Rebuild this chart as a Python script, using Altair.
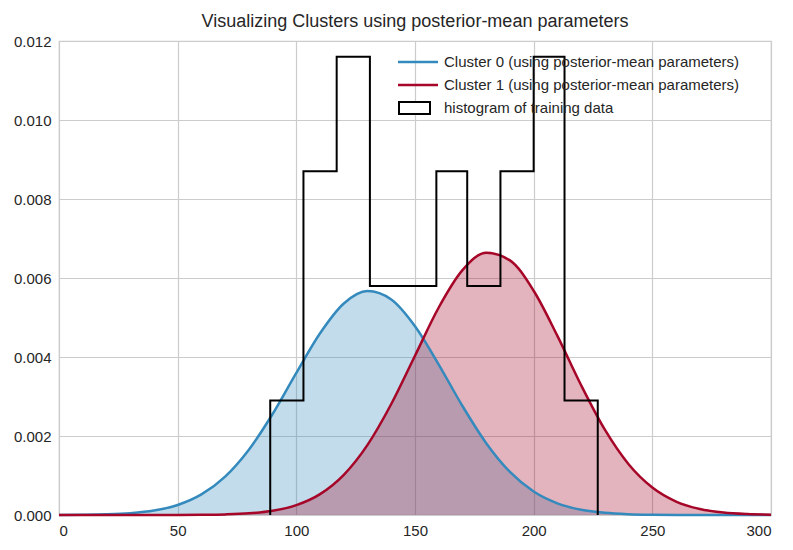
import altair as alt
import pandas as pd

xs = list(range(0, 310, 10))
c0 = [0.0000017,0.0000056,0.0000166,0.0000452,0.000112,0.000254,0.000521,0.000973,0.001654,0.002557,
      0.003597,0.004601,0.005355,0.00567,0.005456,0.004778,0.003808,0.002759,0.001819,0.001091,
      0.000595,0.000296,0.000133,0.0000547,0.0000204,0.000007,0.000002,0.0000005,0.0,0.0,0.0]
c1 = [0.0,0.0,0.0,0.0,0.0000001,0.0000004,0.0000046,0.0000146,0.0000414,0.000107,
      0.000250,0.000529,0.001018,0.001776,0.002811,0.004033,0.005253,0.006198,0.00664,0.006446,
      0.005677,0.004534,0.003286,0.002159,0.001286,0.000696,0.000341,0.000152,0.0000611,0.0000224,0.0000074]
edges = [89, 103, 117, 131, 145, 159, 172, 186, 200, 213, 227]
heights = [0.0029, 0.0087, 0.0116, 0.0058, 0.0058, 0.0087, 0.0058, 0.0087, 0.0116, 0.0029]
labels = ["Cluster 0 (using posterior-mean parameters)",
          "Cluster 1 (using posterior-mean parameters)",
          "histogram of training data"]
BLUE, RED = "#348ABD", "#A60628"

cur = pd.DataFrame({"x": xs, "c0": c0, "c1": c1})
hx, hy = [edges[0]], [0.0]
for i, h in enumerate(heights):
    hx += [edges[i], edges[i + 1]]
    hy += [h, h]
hx.append(edges[-1]); hy.append(0.0)
hist = pd.DataFrame({"x": hx, "y": hy, "o": range(len(hx))})

X = alt.X("x:Q", scale=alt.Scale(domain=[0, 300], nice=False),
          axis=alt.Axis(values=list(range(0, 301, 50)), title=None))
YS = alt.Scale(domain=[0, 0.012], nice=False)
YA = alt.Axis(values=[0, 0.002, 0.004, 0.006, 0.008, 0.010, 0.012], format=".3f", title=None)

base = alt.Chart(cur)
a0 = base.mark_area(color=BLUE, opacity=0.3, interpolate="monotone").encode(x=X, y=alt.Y("c0:Q", scale=YS, axis=YA))
a1 = base.mark_area(color=RED, opacity=0.3, interpolate="monotone").encode(x=X, y="c1:Q")
l0 = base.mark_line(color=BLUE, strokeWidth=2.5, interpolate="monotone").encode(x=X, y="c0:Q")
l1 = base.mark_line(color=RED, strokeWidth=2.5, interpolate="monotone").encode(x=X, y="c1:Q")
h = alt.Chart(hist).mark_line(color="black", strokeWidth=2).encode(x=X, y=alt.Y("y:Q", scale=YS, axis=YA), order="o:Q")

leg = pd.DataFrame({"t": labels, "yy": [21, 44, 67]})
lg_r0 = alt.Chart(leg.iloc[[0]]).mark_rule(color=BLUE, strokeWidth=2.5).encode(x=alt.value(339), x2=alt.value(379), y=alt.value(21))
lg_r1 = alt.Chart(leg.iloc[[1]]).mark_rule(color=RED, strokeWidth=2.5).encode(x=alt.value(339), x2=alt.value(379), y=alt.value(44))
lg_sq = alt.Chart(leg.iloc[[2]]).mark_rect(fill="white", stroke="black", strokeWidth=2).encode(
    x=alt.value(340), x2=alt.value(371), y=alt.value(61), y2=alt.value(73))
lg_t = alt.Chart(leg).mark_text(align="left", baseline="middle", fontSize=15, font="Liberation Sans", color="#262626").encode(
    x=alt.value(385), y=alt.Y("yy:Q", scale=None), text="t:N")

chart = alt.layer(a0, a1, l0, l1, h, lg_r0, lg_r1, lg_sq, lg_t).properties(
    width=712, height=474,
    title=alt.Title("Visualizing Clusters using posterior-mean parameters", fontSize=18,
                    font="Liberation Sans", fontWeight="normal", color="#262626", offset=3)
).configure_axis(
    grid=True, gridColor="#cccccc", gridWidth=1.2, domain=False, ticks=False,
    labelFont="Liberation Sans", labelFontSize=15, labelColor="#262626", labelPadding=8
).configure_view(stroke="#cccccc", strokeWidth=1.2)

chart.save("out.html", embed_options={"renderer": "svg", "actions": False})
